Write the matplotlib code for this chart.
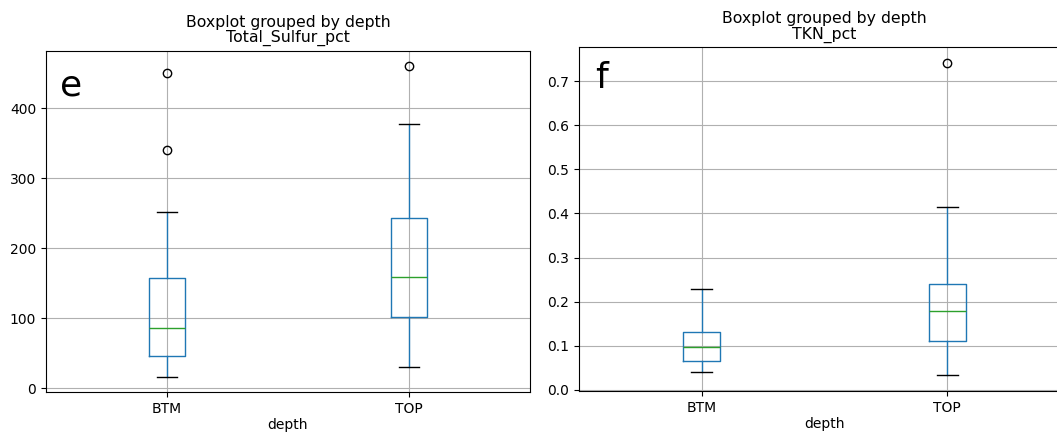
import matplotlib
matplotlib.use("Agg")
import matplotlib.pyplot as plt

categories = ["BTM", "TOP"]

# Total_Sulfur_pct box statistics
sulfur_whislo = [17, 31]
sulfur_q1 = [47, 102]
sulfur_med = [86, 159]
sulfur_q3 = [158, 243]
sulfur_whishi = [252, 378]
sulfur_fliers = [[340, 451], [460]]

# TKN_pct box statistics
tkn_whislo = [0.040, 0.033]
tkn_q1 = [0.065, 0.110]
tkn_med = [0.098, 0.180]
tkn_q3 = [0.131, 0.241]
tkn_whishi = [0.228, 0.415]
tkn_fliers = [[], [0.742]]


def stats(lo, q1, med, q3, hi, fl):
    out = []
    for i, c in enumerate(categories):
        out.append(dict(label=c, whislo=lo[i], q1=q1[i], med=med[i],
                        q3=q3[i], whishi=hi[i], fliers=fl[i]))
    return out


W, H = 1057, 433
fig = plt.figure(figsize=(W / 100, H / 100), dpi=100)

ax1 = fig.add_axes([46 / W, 1 - 392 / H, 484 / W, (392 - 51) / H])
ax2 = fig.add_axes([579 / W, 1 - 391 / H, 491 / W, (391 - 47) / H])

blue = "#1f77b4"
green = "#2ca02c"


def draw(ax, st):
    ax.bxp(st, positions=[1, 2], widths=0.15, capwidths=0.085,
           boxprops=dict(color=blue),
           whiskerprops=dict(color=blue),
           capprops=dict(color="black"),
           medianprops=dict(color=green),
           flierprops=dict(marker="o", markerfacecolor="none",
                           markeredgecolor="black"))
    ax.grid(True, color="#b0b0b0", linewidth=0.8)
    ax.set_axisbelow(True)
    ax.set_xlabel("depth", fontsize=10, labelpad=1.5)
    ax.tick_params(labelsize=10)


draw(ax1, stats(sulfur_whislo, sulfur_q1, sulfur_med, sulfur_q3, sulfur_whishi, sulfur_fliers))
draw(ax2, stats(tkn_whislo, tkn_q1, tkn_med, tkn_q3, tkn_whishi, tkn_fliers))

ax1.set_yticks([0, 100, 200, 300, 400])
ax2.set_yticks([0.0, 0.1, 0.2, 0.3, 0.4, 0.5, 0.6, 0.7])

fig.text(288 / W, 1 - 22 / H, "Boxplot grouped by depth", ha="center", va="center", fontsize=11.3)
fig.text(288 / W, 1 - 38 / H, "Total_Sulfur_pct", ha="center", va="center", fontsize=11.3)
fig.text(824 / W, 1 - 19 / H, "Boxplot grouped by depth", ha="center", va="center", fontsize=11.3)
fig.text(824 / W, 1 - 35 / H, "TKN_pct", ha="center", va="center", fontsize=11.3)

fig.text(60 / W, 1 - 95 / H, "e", ha="left", va="baseline", fontsize=26)
fig.text(595 / W, 1 - 88 / H, "f", ha="left", va="baseline", fontsize=26)

fig.savefig("out.png", dpi=100)
